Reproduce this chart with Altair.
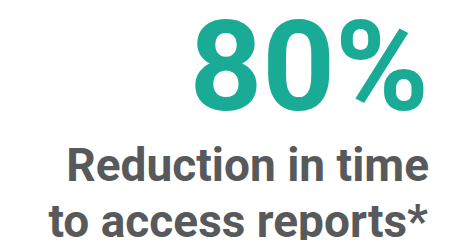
import altair as alt
import pandas as pd

headline = ["80%"]
label_lines = ["Reduction in time", "to access reports*"]

TEAL = "#1aab96"
GRAY = "#58595b"

head_df = pd.DataFrame({"text": headline})
lab_df = pd.DataFrame({"text": label_lines, "line": [0, 1]})

head = alt.Chart(head_df).mark_text(
    font="Roboto", fontWeight="bold", fontSize=127, color=TEAL,
    align="right", baseline="alphabetic"
).encode(
    text="text:N",
    x=alt.value(421),
    y=alt.value(92),
)

line1 = alt.Chart(lab_df).transform_filter("datum.line == 0").mark_text(
    font="Roboto", fontWeight="bold", fontSize=46, color=GRAY,
    align="right", baseline="alphabetic"
).encode(text="text:N", x=alt.value(421), y=alt.value(163))

line2 = alt.Chart(lab_df).transform_filter("datum.line == 1").mark_text(
    font="Roboto", fontWeight="bold", fontSize=46, color=GRAY,
    align="right", baseline="alphabetic"
).encode(text="text:N", x=alt.value(420), y=alt.value(219))

chart = alt.layer(head, line1, line2).properties(
    width=433, height=232, padding=0, background="white",
    autosize=alt.AutoSizeParams(type="fit", contains="padding"),
).configure_view(stroke=None)

chart.save("out.html", embed_options={"renderer": "svg", "actions": False})
